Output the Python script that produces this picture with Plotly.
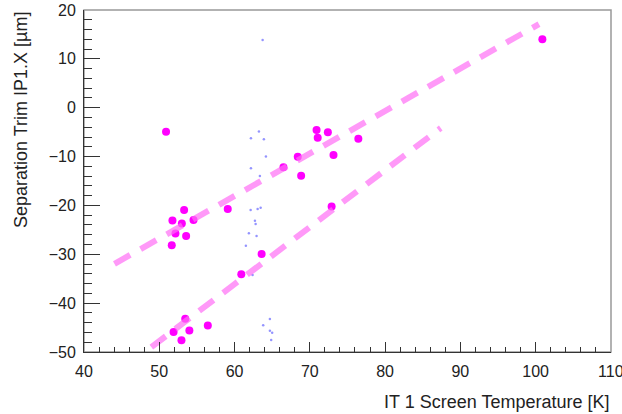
import plotly.graph_objects as go

# Magenta measurement points
temp_k = [50.9, 100.9, 70.9, 71.05, 72.4, 76.45, 73.15, 68.4, 66.5, 68.85,
          59.1, 53.3, 51.75, 54.55, 53.0, 52.15, 53.57, 51.66, 63.6, 60.9,
          72.9, 53.45, 56.45, 51.9, 54.0, 52.95]
sep_um = [-4.9, 14.0, -4.55, -6.15, -5.0, -6.35, -9.7, -10.05, -12.2, -13.9,
          -20.75, -20.95, -23.1, -23.0, -23.7, -25.75, -26.25, -28.15, -29.95, -34.1,
          -20.2, -43.2, -44.6, -45.9, -45.6, -47.6]

# Faint blue points
blue_x = [63.73, 63.24, 62.18, 63.9, 64.17, 62.18, 63.37, 62.14, 63.07, 63.47,
          62.71, 62.8, 61.91, 62.93, 61.51, 62.4, 64.7, 63.81, 64.7, 65.0, 64.87]
blue_y = [13.86, -4.87, -6.26, -6.47, -9.98, -12.4, -13.97, -20.93, -20.73, -20.46,
          -23.12, -23.8, -25.7, -26.25, -28.24, -34.24, -43.24, -44.53, -45.64, -46.05, -47.54]

# Fit lines (end points)
fit1_x = [44.05, 100.45]
fit1_y = [-31.95, 17.1]
fit2_x = [48.95, 87.4]
fit2_y = [-49.0, -4.15]

x_ticks = [40, 50, 60, 70, 80, 90, 100, 110]
x_title = "IT 1 Screen Temperature [K]"
y_title = "Separation Trim IP1.X [µm]"

FONT = "Liberation Sans, Arial, sans-serif"
TXT = "#222222"

fig = go.Figure()
fig.add_trace(go.Scatter(x=temp_k, y=sep_um, mode="markers",
                         marker=dict(color="#ff00ff", size=8, line=dict(width=0)),
                         showlegend=False, hoverinfo="skip"))
fig.add_trace(go.Scatter(x=blue_x, y=blue_y, mode="markers",
                         marker=dict(color="rgba(60,60,255,0.55)", size=2.5, line=dict(width=0)),
                         showlegend=False, hoverinfo="skip"))
line_style = dict(color="rgba(255,110,245,0.7)", width=6, dash="18px,12px")
fig.add_trace(go.Scatter(x=fit1_x, y=fit1_y, mode="lines", line=line_style,
                         showlegend=False, hoverinfo="skip"))
fig.add_trace(go.Scatter(x=fit2_x, y=fit2_y, mode="lines", line=line_style,
                         showlegend=False, hoverinfo="skip"))

fig.add_shape(type="rect", xref="paper", yref="paper", x0=0, x1=1, y0=0, y1=1,
              line=dict(color="#999999", width=1.5), layer="below")

fig.update_xaxes(range=[40, 110.02], tickmode="array", tickvals=x_ticks,
                 ticktext=[str(v) for v in x_ticks],
                 ticks="inside", ticklen=10,
                 tickcolor="#333", tickwidth=1, showgrid=False, zeroline=False,
                 showline=True, linecolor="#333", linewidth=1, automargin=False,
                 tickfont=dict(family=FONT, size=16, color=TXT),
                 ticklabelstandoff=5, ticklabeloverflow="allow",
                 minor=dict(dtick=2, tick0=40, ticks="inside", ticklen=5,
                            tickcolor="#333", showgrid=False))
fig.update_yaxes(range=[-50, 20], dtick=10, tick0=0, ticks="inside", ticklen=16,
                 tickcolor="#333", tickwidth=1, showgrid=False, zeroline=False,
                 showline=True, linecolor="#333", linewidth=1, automargin=False,
                 tickfont=dict(family=FONT, size=16, color=TXT),
                 ticklabelstandoff=4,
                 minor=dict(dtick=2, ticks="inside", ticklen=8, tickcolor="#333", showgrid=False))

fig.add_annotation(text=x_title, xref="paper", yref="paper", x=1, y=0,
                   xanchor="right", yanchor="middle", yshift=-50, showarrow=False,
                   font=dict(family=FONT, size=18, color=TXT))
fig.add_annotation(text=y_title, xref="paper", yref="paper", x=0, y=1,
                   xanchor="center", yanchor="top", xshift=-63, textangle=-90,
                   showarrow=False, font=dict(family=FONT, size=18, color=TXT))

fig.update_layout(width=622, height=414,
                  margin=dict(l=84, r=11, t=10, b=62, autoexpand=False),
                  plot_bgcolor="white", paper_bgcolor="white")

fig.write_html("out.html", config={"displayModeBar": False},
               post_script="document.body.style.margin='0px';document.body.style.overflow='hidden';")
